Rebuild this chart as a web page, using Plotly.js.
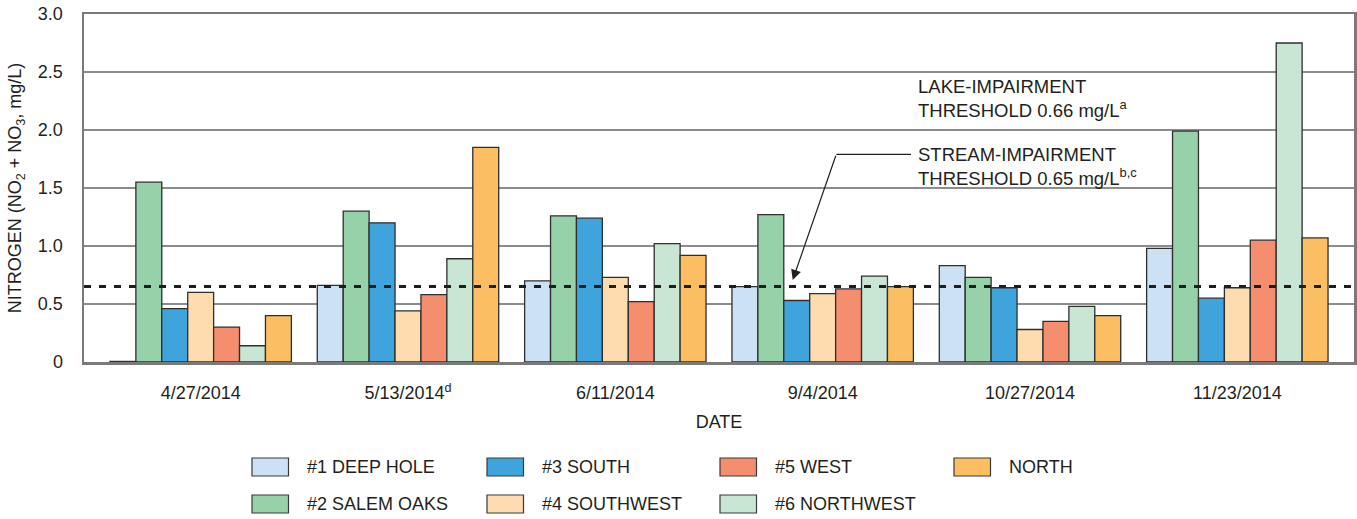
<!DOCTYPE html>
<html>
<head>
<meta charset="utf-8">
<script src="https://cdn.plot.ly/plotly-3.0.1.min.js"></script>
<style>html,body{margin:0;padding:0;background:#fff;}#chart{width:1357px;height:519px;}</style>
</head>
<body>
<div id="chart"></div>
<script>
// ---- data ----
const dates = ['4/27/2014', '5/13/2014', '6/11/2014', '9/4/2014', '10/27/2014', '11/23/2014'];
const dateLabels = ['4/27/2014', '5/13/2014<sup>d</sup>', '6/11/2014', '9/4/2014', '10/27/2014', '11/23/2014'];
const seriesNames = ['#1 DEEP HOLE', '#2 SALEM OAKS', '#3 SOUTH', '#4 SOUTHWEST', '#5 WEST', '#6 NORTHWEST', 'NORTH'];
const seriesColors = ['#cde1f4', '#97d1aa', '#40a4dc', '#fedcb0', '#f58e6f', '#c8e6d3', '#fbbe63'];
const deepHole  = [0.005, 0.66, 0.70, 0.65, 0.83, 0.98];
const salemOaks = [1.55, 1.30, 1.26, 1.27, 0.73, 1.99];
const south     = [0.46, 1.20, 1.24, 0.53, 0.64, 0.55];
const southwest = [0.60, 0.44, 0.73, 0.59, 0.28, 0.64];
const west      = [0.30, 0.58, 0.52, 0.63, 0.35, 1.05];
const northwest = [0.14, 0.89, 1.02, 0.74, 0.48, 2.75];
const north     = [0.40, 1.85, 0.92, 0.65, 0.40, 1.07];
const streamThreshold = 0.65;
const yTickVals = [0, 0.5, 1, 1.5, 2, 2.5, 3];
const yTickText = ['0', '0.5', '1.0', '1.5', '2.0', '2.5', '3.0'];
const lakeText = 'LAKE-IMPAIRMENT<br>THRESHOLD 0.66 mg/L<sup>a</sup>';
const streamText = 'STREAM-IMPAIRMENT<br>THRESHOLD 0.65 mg/L<sup>b,c</sup>';
const yTitle = 'NITROGEN (NO<sub>2</sub> + NO<sub>3</sub>, mg/L)';
const xTitle = 'DATE';

// ---- layout helpers ----
const W = 1357, H = 519;
const M = {l: 84, r: 3, t: 14, b: 157};
const PW = W - M.l - M.r, PH = H - M.t - M.b;
const px = x => (x - M.l) / PW;
const py = y => (H - M.b - y) / PH;
const FONT = 'Liberation Sans, Arial, Helvetica, sans-serif';
const TXT = '#231f20';

const seriesValues = [deepHole, salemOaks, south, southwest, west, northwest, north];
const traces = seriesNames.map((name, i) => ({
  type: 'bar',
  name: name,
  x: dates,
  y: seriesValues[i],
  marker: {color: seriesColors[i], line: {color: '#2f2f2f', width: 1.3}},
  showlegend: false,
  hoverinfo: 'x+y+name'
}));

const shapes = [];
const annotations = [];

// white box breaking gridlines behind threshold labels
shapes.push({type: 'rect', xref: 'paper', yref: 'paper', layer: 'between',
  x0: px(909), x1: px(1130), y0: py(196), y1: py(77),
  fillcolor: '#ffffff', line: {width: 0}});
// stream threshold dashed line
shapes.push({type: 'line', xref: 'paper', yref: 'y', x0: 0, x1: 1,
  y0: streamThreshold, y1: streamThreshold, layer: 'above',
  line: {color: '#1e1e1e', width: 3, dash: '7px,8px'}});
// leader line (horizontal part)
shapes.push({type: 'line', xref: 'paper', yref: 'paper',
  x0: px(836.3), x1: px(911), y0: py(154.3), y1: py(154.3),
  line: {color: TXT, width: 1.2}});
// leader arrow (diagonal part)
annotations.push({xref: 'paper', yref: 'paper', x: px(792.7), y: py(280), text: '',
  showarrow: true, arrowhead: 2, arrowsize: 1.7, arrowwidth: 1.2, arrowcolor: TXT,
  ax: 836.3 - 792.7, ay: 154.3 - 280, standoff: 0});
// threshold labels
annotations.push({xref: 'paper', yref: 'paper', x: px(916), y: py(99), xanchor: 'left', yanchor: 'middle',
  align: 'left', text: lakeText, showarrow: false, font: {family: FONT, size: 18.5, color: TXT}});
annotations.push({xref: 'paper', yref: 'paper', x: px(916), y: py(166.5), xanchor: 'left', yanchor: 'middle',
  align: 'left', text: streamText, showarrow: false, font: {family: FONT, size: 18.5, color: TXT}});

// legend (column-major, 2 rows)
const colX = [252, 487, 720, 954];
const rowY = [467, 504];
seriesNames.forEach((name, i) => {
  const c = Math.floor(i / 2), r = i % 2;
  const cx = colX[c], cy = rowY[r];
  shapes.push({type: 'rect', xref: 'paper', yref: 'paper',
    x0: px(cx), x1: px(cx + 36.5), y0: py(cy - 9), y1: py(cy + 9),
    fillcolor: seriesColors[i], line: {color: '#3a3a3a', width: 1.2}});
  annotations.push({xref: 'paper', yref: 'paper', x: px(cx + 53), y: py(cy),
    xanchor: 'left', yanchor: 'middle', text: name, showarrow: false,
    font: {family: FONT, size: 18, color: TXT}});
});

const layout = {
  width: W, height: H,
  margin: M,
  paper_bgcolor: '#ffffff', plot_bgcolor: '#ffffff',
  font: {family: FONT, size: 18, color: TXT},
  barmode: 'group', bargap: 0.125, bargroupgap: 0,
  showlegend: false,
  xaxis: {
    type: 'category', categoryorder: 'array', categoryarray: dates,
    range: [-0.5627, 5.5627],
    tickvals: dates, ticktext: dateLabels,
    ticks: '', ticklabelstandoff: 13,
    showgrid: false, zeroline: false,
    showline: true, mirror: true, linecolor: '#7a7a7a', linewidth: 2.5,
    tickfont: {family: FONT, size: 18, color: TXT},
    title: {text: xTitle, font: {family: FONT, size: 18, color: TXT}, standoff: 14}
  },
  yaxis: {
    range: [0, 3],
    tickvals: yTickVals, ticktext: yTickText,
    ticks: '', ticklabelstandoff: 15,
    showgrid: true, gridcolor: '#8c8c8c', gridwidth: 1.3,
    zeroline: false,
    showline: true, mirror: true, linecolor: '#7a7a7a', linewidth: 2.5,
    tickfont: {family: FONT, size: 18, color: TXT},
    title: {text: yTitle, font: {family: FONT, size: 18, color: TXT}, standoff: 12}
  },
  shapes: shapes,
  annotations: annotations
};

Plotly.newPlot('chart', traces, layout, {displayModeBar: false, staticPlot: true});
</script>
</body>
</html>
